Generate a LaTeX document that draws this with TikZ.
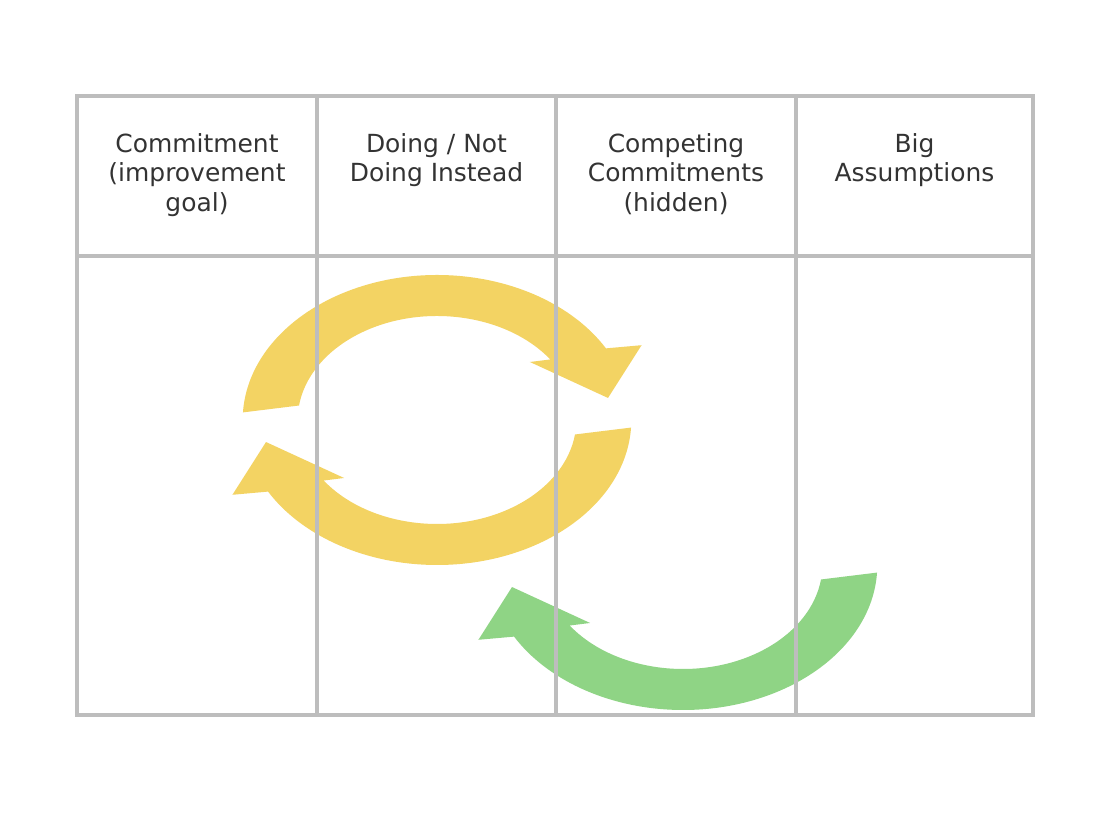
\documentclass[tikz,border=0pt]{standalone}
\usepackage{fontspec}
\setmainfont{DejaVu Sans}
\definecolor{ringyellow}{HTML}{F3D363}
\definecolor{ringgreen}{HTML}{8FD485}
\definecolor{gridgray}{HTML}{BDBDBD}
\definecolor{headtext}{HTML}{333333}

\tikzset{
  ringarrow/.pic = {
    \fill[#1, xscale=1.34]
      (177:145) arc[start angle=177, end angle=29.6, radius=145]
      -- (26.1:170) -- (9.8:129.5) -- (39.9:90.4) -- (35.6:104)
      arc[start angle=35.6, end angle=172, radius=104] -- cycle;
  }
}

\begin{document}
\begin{tikzpicture}[
  x=0.75pt, y=0.75pt,
  gridline/.style = {draw=gridgray, line width=3.4pt},
  head/.style     = {anchor=north, inner sep=0pt, align=center,
                     font=\fontsize{18.7}{22.1}\selectfont, text=headtext},
]
  \fill[white] (0,0) rectangle (1110,816);

  % the loops
  \pic at (437,396) {ringarrow=ringyellow};
  \pic[rotate=180] at (437,396) {ringarrow=ringyellow};
  \pic[rotate=180] at (683,251) {ringarrow=ringgreen};

  % the table
  \draw[gridline] (77,101) rectangle (1033,720);
  \draw[gridline] (77,560) -- (1033,560);
  \foreach \x in {317,556,796}
    \draw[gridline] (\x,101) -- (\x,720);

  \node[head] (commit) at (197,683)   {Commitment\\(improvement\\goal)};
  \node[head] (doing)  at (436.5,683) {Doing / Not\\Doing Instead};
  \node[head] (compet) at (676,683)   {Competing\\Commitments\\(hidden)};
  \node[head] (assume) at (914.5,683) {Big\\Assumptions};
\end{tikzpicture}
\end{document}
